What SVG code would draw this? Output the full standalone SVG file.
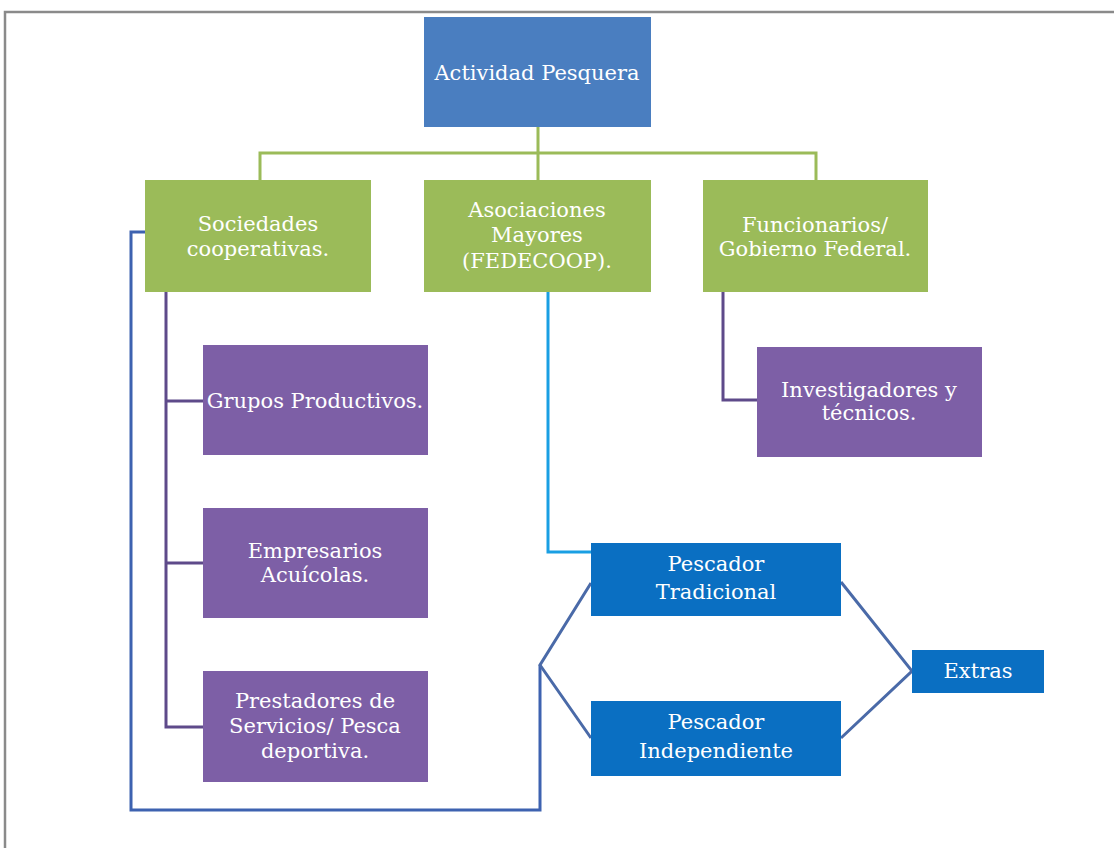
<svg xmlns="http://www.w3.org/2000/svg" width="1114" height="848" viewBox="0 0 1114 848">
<style>
.t{font-family:"DejaVu Serif","Liberation Serif",serif;font-size:21px;fill:#ffffff;text-anchor:middle}
.blue1{fill:#4a7ec0}
.green{fill:#9bbb59}
.purple{fill:#7d5fa6}
.blue2{fill:#0a6fc2}
.cg{stroke:#9bbb59;stroke-width:3;fill:none}
.cp{stroke:#5e4a8a;stroke-width:3;fill:none}
.cl{stroke:#1a9fe3;stroke-width:3;fill:none}
.cb{stroke:#3d62b0;stroke-width:3;fill:none}
.cd{stroke:#4a6aa8;stroke-width:3;fill:none}
</style>
<rect x="0" y="0" width="1114" height="848" fill="#ffffff"/>
<path d="M5,848 V12 H1114" fill="none" stroke="#8a8a8a" stroke-width="2.5"/>
<g id="connectors">
<path class="cg" d="M538,127 V153 M260,180 V153 H816 V180 M538,153 V180"/>
<path class="cp" d="M166,292 V727 H203 M166,401 H203 M166,563 H203"/>
<path class="cp" d="M723,292 V400 H757"/>
<path class="cl" d="M548,292 V552 H591"/>
<path class="cb" d="M540,665 V810 H131 V232 H145"/>
<path class="cd" d="M591,583 L540,665 L591,738"/>
<path class="cd" d="M841,582 L912,671 L841,738"/>
</g>
<g id="actividad">
<rect class="blue1" x="424" y="17" width="227" height="110"/>
<text class="t" x="537" y="80" font-size="21.5">Actividad Pesquera</text>
</g>
<g id="sociedades">
<rect class="green" x="145" y="180" width="226" height="112"/>
<text class="t" x="258" y="231">Sociedades</text>
<text class="t" x="258" y="256">cooperativas.</text>
</g>
<g id="asociaciones">
<rect class="green" x="424" y="180" width="227" height="112"/>
<text class="t" x="537" y="217">Asociaciones</text>
<text class="t" x="537" y="242">Mayores</text>
<text class="t" x="537" y="268">(FEDECOOP).</text>
</g>
<g id="funcionarios">
<rect class="green" x="703" y="180" width="225" height="112"/>
<text class="t" x="815" y="232">Funcionarios/</text>
<text class="t" x="815" y="256">Gobierno Federal.</text>
</g>
<g id="grupos">
<rect class="purple" x="203" y="345" width="225" height="110"/>
<text class="t" x="315" y="408">Grupos Productivos.</text>
</g>
<g id="empresarios">
<rect class="purple" x="203" y="508" width="225" height="110"/>
<text class="t" x="315" y="558">Empresarios</text>
<text class="t" x="315" y="582">Acuícolas.</text>
</g>
<g id="prestadores">
<rect class="purple" x="203" y="671" width="225" height="111"/>
<text class="t" x="315" y="708">Prestadores de</text>
<text class="t" x="315" y="733">Servicios/ Pesca</text>
<text class="t" x="315" y="758">deportiva.</text>
</g>
<g id="investigadores">
<rect class="purple" x="757" y="347" width="225" height="110"/>
<text class="t" x="869" y="397">Investigadores y</text>
<text class="t" x="869" y="420">técnicos.</text>
</g>
<g id="tradicional">
<rect class="blue2" x="591" y="543" width="250" height="73"/>
<text class="t" x="716" y="571">Pescador</text>
<text class="t" x="716" y="599">Tradicional</text>
</g>
<g id="independiente">
<rect class="blue2" x="591" y="701" width="250" height="75"/>
<text class="t" x="716" y="729">Pescador</text>
<text class="t" x="716" y="758">Independiente</text>
</g>
<g id="extras">
<rect class="blue2" x="912" y="650" width="132" height="43"/>
<text class="t" x="978" y="678">Extras</text>
</g>
</svg>
